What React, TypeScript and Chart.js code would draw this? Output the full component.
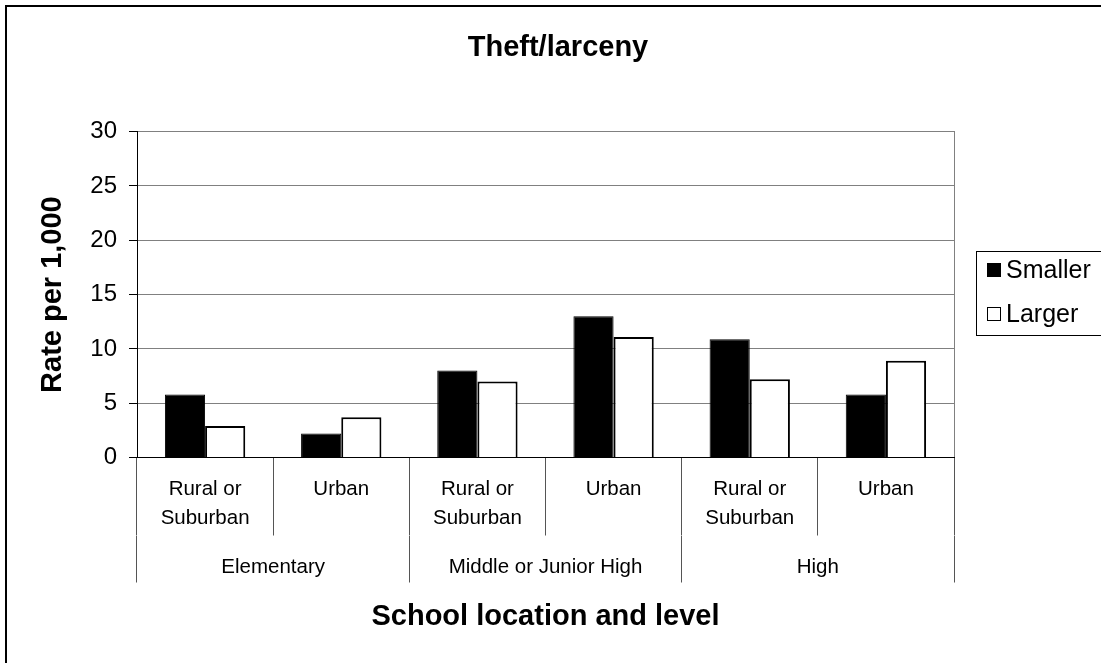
import React, { useEffect, useRef } from 'react';
import { Chart, registerables } from 'chart.js';

Chart.register(...registerables);

const FONT = "'Liberation Sans', Arial, sans-serif";

const subCategories: (string | string[])[] = [
  ['Rural or', 'Suburban'],
  'Urban',
  ['Rural or', 'Suburban'],
  'Urban',
  ['Rural or', 'Suburban'],
  'Urban',
];
const levels = ['Elementary', 'Middle or Junior High', 'High'];
const seriesNames = ['Smaller', 'Larger'];
const smaller = [5.8, 2.2, 8.0, 13.0, 10.9, 5.8];
const larger = [2.9, 3.7, 7.0, 11.1, 7.2, 8.9];
const yMin = 0;
const yMax = 30;
const yStep = 5;

const framePlugin = {
  id: 'frame',
  beforeDraw(chart: any) {
    const { ctx, width, height } = chart;
    ctx.save();
    ctx.fillStyle = '#fff';
    ctx.fillRect(0, 0, width, height);
    ctx.strokeStyle = '#000';
    ctx.lineWidth = 2;
    ctx.beginPath();
    ctx.moveTo(6, height + 5);
    ctx.lineTo(6, 6);
    ctx.lineTo(width + 5, 6);
    ctx.stroke();
    ctx.restore();
  },
};

const boxLegendPlugin = {
  id: 'boxLegend',
  afterDraw(chart: any) {
    const { ctx } = chart;
    const left = 976.5;
    const top = 251.5;
    ctx.save();
    ctx.strokeStyle = '#000';
    ctx.lineWidth = 1;
    ctx.strokeRect(left, top, 200, 84);
    ctx.font = `25px ${FONT}`;
    ctx.textBaseline = 'middle';
    ctx.textAlign = 'left';
    chart.data.datasets.forEach((ds: any, i: number) => {
      const cy = 270 + i * 44;
      ctx.fillStyle = ds.backgroundColor;
      ctx.fillRect(987, cy - 7, 14, 14);
      ctx.strokeStyle = ds.borderColor;
      ctx.lineWidth = 1;
      ctx.strokeRect(987.5, cy - 6.5, 13, 13);
      ctx.fillStyle = '#000';
      ctx.fillText(ds.label, 1006, cy + 1);
    });
    ctx.restore();
  },
};

export default function App() {
  const canvasRef = useRef<HTMLCanvasElement | null>(null);

  useEffect(() => {
    if (!canvasRef.current) return;
    Chart.defaults.font.family = FONT;
    Chart.defaults.color = '#000';
    const chart = new Chart(canvasRef.current, {
      type: 'bar',
      data: {
        labels: subCategories as any,
        datasets: [
          {
            label: seriesNames[0],
            data: smaller,
            backgroundColor: '#000',
            borderColor: '#000',
            borderWidth: 1,
            categoryPercentage: 0.59,
            barPercentage: 1,
            xAxisID: 'x',
            yAxisID: 'y',
          },
          {
            label: seriesNames[1],
            data: larger,
            backgroundColor: '#fff',
            borderColor: '#000',
            borderWidth: 2,
            categoryPercentage: 0.59,
            barPercentage: 1,
            xAxisID: 'x',
            yAxisID: 'y',
          },
        ],
      },
      options: {
        responsive: false,
        animation: false,
        layout: { padding: { left: 15, right: 0, top: 0, bottom: 0 } },
        plugins: {
          legend: { display: false },
          tooltip: { enabled: false },
          title: {
            display: true,
            text: 'Theft/larceny',
            color: '#000',
            font: { size: 29, weight: 'bold', family: FONT },
            padding: { top: 30.6, bottom: 66.3 },
          },
        },
        scales: {
          y: {
            type: 'linear',
            position: 'left',
            min: yMin,
            max: yMax,
            ticks: { stepSize: yStep, color: '#000', padding: 12, font: { size: 24, family: FONT } },
            grid: {
              color: (c: any) => (c.tick && c.tick.value === 0 ? '#000' : '#808080'),
              tickColor: '#000',
              tickLength: 8,
              drawTicks: true,
            },
            border: { color: '#000', width: 1 },
            title: {
              display: true,
              text: 'Rate per 1,000',
              color: '#000',
              font: { size: 29, weight: 'bold', family: FONT },
              padding: { top: 20.6, bottom: 0 },
            },
            afterFit: (s: any) => {
              s.width = 122;
            },
          },
          yR: {
            type: 'linear',
            position: 'right',
            display: true,
            grid: { display: false, drawTicks: false },
            ticks: { display: false },
            border: { display: true, color: '#808080', width: 1 },
            afterFit: (s: any) => {
              s.width = 147;
            },
          },
          x: {
            type: 'category',
            position: 'bottom',
            weight: 0,
            offset: true,
            grid: {
              offset: true,
              drawOnChartArea: false,
              drawTicks: true,
              tickLength: 78,
              color: '#555',
              tickColor: '#555',
            },
            border: { color: '#000', width: 1 },
            ticks: {
              color: '#000',
              font: { size: 20.5, lineHeight: 1.415, family: FONT },
              padding: -61,
              maxRotation: 0,
              minRotation: 0,
              autoSkip: false,
            },
            afterFit: (s: any) => {
              s.height = 78;
            },
          },
          x2: {
            type: 'category',
            axis: 'x',
            position: 'bottom',
            weight: 1,
            labels: levels,
            offset: true,
            grid: {
              offset: true,
              drawOnChartArea: false,
              drawTicks: true,
              tickLength: 47,
              color: '#555',
              tickColor: '#555',
            },
            border: { display: false },
            ticks: {
              color: '#000',
              font: { size: 20.5, family: FONT },
              padding: -27.8,
              maxRotation: 0,
              minRotation: 0,
              autoSkip: false,
            },
            title: {
              display: true,
              text: 'School location and level',
              color: '#000',
              font: { size: 29, weight: 'bold', family: FONT },
              padding: { top: 0, bottom: 28.6 },
            },
            afterFit: (s: any) => {
              s.height = 127.5;
            },
          },
        } as any,
      },
      plugins: [framePlugin, boxLegendPlugin],
    });
    return () => chart.destroy();
  }, []);

  return (
    <div style={{ position: 'fixed', left: 0, top: 0, width: 1101, height: 663, overflow: 'hidden' }}>
      <canvas ref={canvasRef} width={1101} height={663} style={{ display: 'block' }} />
    </div>
  );
}
